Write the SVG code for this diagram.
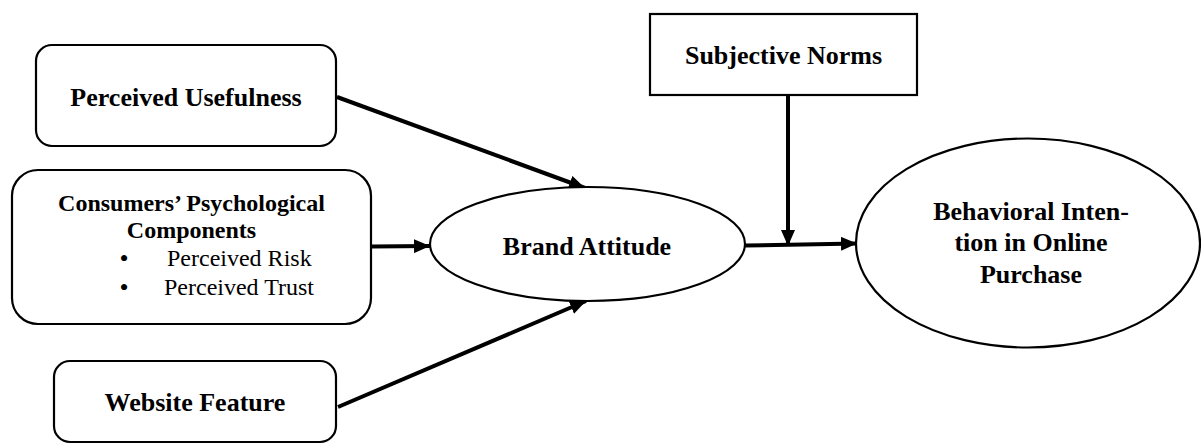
<svg xmlns="http://www.w3.org/2000/svg" width="1201" height="445" viewBox="0 0 1201 445">
<style>
.box{fill:#fff;stroke:#000;stroke-width:2.2}
.t{font-family:"Liberation Serif","Times New Roman",serif;font-weight:bold;font-size:26px;fill:#000;text-anchor:middle}
.h{font-family:"Liberation Serif","Times New Roman",serif;font-weight:bold;font-size:24px;fill:#000;text-anchor:middle}
.r{font-family:"Liberation Serif","Times New Roman",serif;font-size:24px;fill:#000}
.b{font-family:"Liberation Serif","Times New Roman",serif;font-size:26px;fill:#000;text-anchor:middle}
.c{stroke:#000;stroke-width:4;fill:none;marker-end:url(#arr)}
</style>
<defs>
<marker id="arr" markerUnits="userSpaceOnUse" markerWidth="16" markerHeight="14" refX="16" refY="7" orient="auto">
<path d="M0,0 L16,7 L0,14 z" fill="#000"/>
</marker>
</defs>
<rect width="1201" height="445" fill="#fff"/>
<g id="connectors">
<line class="c" x1="337" y1="97" x2="585" y2="188"/>
<line class="c" x1="372" y1="246.5" x2="430" y2="246"/>
<line class="c" x1="338" y1="407" x2="586" y2="301"/>
<line class="c" x1="745" y1="245.5" x2="857" y2="243.5"/>
<line class="c" x1="788" y1="96" x2="788" y2="246"/>
</g>
<g id="perceived-usefulness">
<rect class="box" x="36" y="45" width="300" height="101" rx="16"/>
<text class="t" x="186" y="106">Perceived Usefulness</text>
</g>
<g id="consumers-psychological">
<rect class="box" x="12" y="170" width="359" height="154" rx="26"/>
<text class="h" x="191.5" y="211">Consumers’ Psychological</text>
<text class="h" x="191.5" y="238">Components</text>
<text class="b" x="124" y="267">•</text>
<text class="r" x="167" y="266">Perceived Risk</text>
<text class="b" x="124" y="296">•</text>
<text class="r" x="164" y="295">Perceived Trust</text>
</g>
<g id="website-feature">
<rect class="box" x="54" y="361" width="282" height="81" rx="16"/>
<text class="t" x="195" y="411">Website Feature</text>
</g>
<g id="subjective-norms">
<rect class="box" x="650" y="14" width="267" height="81"/>
<text class="t" x="783.5" y="64">Subjective Norms</text>
</g>
<g id="brand-attitude">
<ellipse class="box" cx="587.5" cy="244" rx="157.5" ry="57"/>
<text class="t" x="587" y="255">Brand Attitude</text>
</g>
<g id="behavioral-intention">
<ellipse class="box" cx="1028" cy="243" rx="172" ry="104.5"/>
<text class="t" x="1031" y="220">Behavioral Inten-</text>
<text class="t" x="1031" y="251">tion in Online</text>
<text class="t" x="1031" y="283">Purchase</text>
</g>
</svg>
